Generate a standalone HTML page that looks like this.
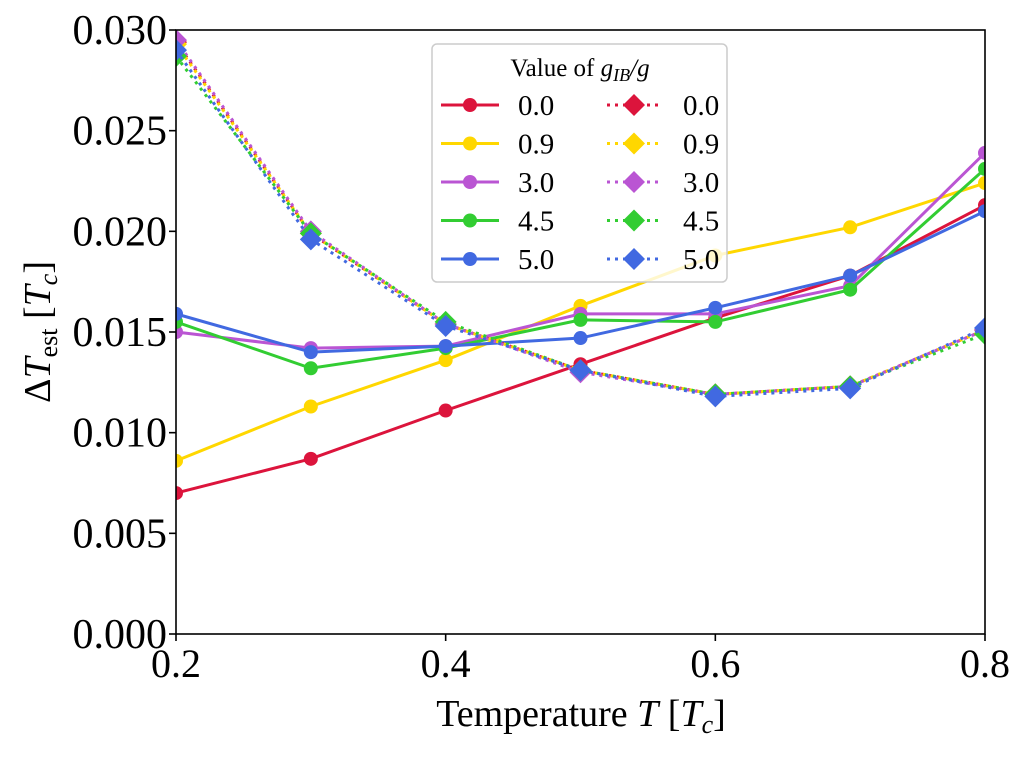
<!DOCTYPE html>
<html><head><meta charset="utf-8"><style>
body{margin:0;background:#fff;}
svg text{font-family:"Liberation Serif",serif;fill:#000;}
</style></head><body>
<svg id="chart" width="1026" height="754" viewBox="0 0 1026 754" xmlns="http://www.w3.org/2000/svg">
<g id="plot"></g>
<g id="axes"></g>
<g id="legend"></g>
</svg>
<script>
const temps = [0.2,0.3,0.4,0.5,0.6,0.7,0.8];
const groups = ["0.0","0.9","3.0","4.5","5.0"];
const colors = ["#dc143c","#ffd700","#ba55d3","#32cd32","#4169e1"];
const solid00 = [0.0070,0.0087,0.0111,0.0134,0.0157,0.0178,0.0213];
const solid09 = [0.0086,0.0113,0.0136,0.0163,0.0188,0.0202,0.0224];
const solid30 = [0.0150,0.0142,0.0143,0.0159,0.0159,0.0173,0.0239];
const solid45 = [0.0155,0.0132,0.0142,0.0156,0.0155,0.0171,0.0231];
const solid50 = [0.0159,0.0140,0.0143,0.0147,0.0162,0.0178,0.0210];
const dot00 = [0.0294,0.0199,0.0154,0.0131,0.0119,0.0123,0.0151];
const dot09 = [0.0293,0.0199,0.0154,0.0131,0.0119,0.0123,0.0151];
const dot30 = [0.0295,0.0200,0.0154,0.0130,0.0119,0.0123,0.0151];
const dot45 = [0.0287,0.0199,0.0155,0.0131,0.0119,0.0123,0.0149];
const dot50 = [0.0290,0.0196,0.0153,0.0131,0.0118,0.0122,0.0152];
const xTicks = [0.2,0.4,0.6,0.8];
const xTickLabels = ["0.2","0.4","0.6","0.8"];
const yTicks = [0,0.005,0.010,0.015,0.020,0.025,0.030];
const yTickLabels = ["0.000","0.005","0.010","0.015","0.020","0.025","0.030"];

const L=176,R=985,T=30,B=634;
const sx=v=>L+(v-0.2)/(0.6)*(R-L);
const sy=v=>B-v/0.030*(B-T);
const NS="http://www.w3.org/2000/svg";
function mk(tag,attrs,parent){const e=document.createElementNS(NS,tag);for(const k in attrs)e.setAttribute(k,attrs[k]);parent.appendChild(e);return e;}
const plot=document.getElementById('plot'),axes=document.getElementById('axes'),leg=document.getElementById('legend');
mk('defs',{},plot).innerHTML='<clipPath id="cp"><rect x="'+L+'" y="'+T+'" width="'+(R-L)+'" height="'+(B-T)+'"/></clipPath>';
const g=mk('g',{'clip-path':'url(#cp)'},plot);
const solids=[solid00,solid09,solid30,solid45,solid50];
const dots=[dot00,dot09,dot30,dot45,dot50];
function diamond(cx,cy,r){return `${cx},${cy-r} ${cx+r},${cy} ${cx},${cy+r} ${cx-r},${cy}`;}
solids.forEach((s,i)=>{
  const p=mk('polyline',{points:s.map((v,j)=>sx(temps[j])+','+sy(v)).join(' '),fill:'none',stroke:colors[i],'stroke-width':3},g);
  
  
  s.forEach((v,j)=>{const c=mk('circle',{cx:sx(temps[j]),cy:sy(v),r:7,fill:colors[i]},g);
    
    });
});
dots.forEach((s,i)=>{
  const p=mk('polyline',{points:s.map((v,j)=>sx(temps[j])+','+sy(v)).join(' '),fill:'none',stroke:colors[i],'stroke-width':3,'stroke-dasharray':'3 5'},g);
  
  
  s.forEach((v,j)=>{const c=mk('polygon',{points:diamond(sx(temps[j]),sy(v),11),fill:colors[i]},g);
    
    });
});
// axes
const fr=mk('rect',{x:L,y:T,width:R-L,height:B-T,fill:'none',stroke:'#000','stroke-width':1.6},axes);


xTicks.forEach((v,i)=>{mk('line',{x1:sx(v),x2:sx(v),y1:B,y2:B+7,stroke:'#000','stroke-width':1.6},axes);
  const t=mk('text',{x:sx(v),y:B+43,'text-anchor':'middle','font-size':40},axes);t.textContent=xTickLabels[i];
  
  });
yTicks.forEach((v,i)=>{mk('line',{x1:L-7,x2:L,y1:sy(v),y2:sy(v),stroke:'#000','stroke-width':1.6},axes);
  const t=mk('text',{x:L-9,y:sy(v)+14,'text-anchor':'end','font-size':42},axes);t.textContent=yTickLabels[i];
  
  });
const xt=mk('text',{x:581,y:726,'text-anchor':'middle','font-size':38},axes);
xt.innerHTML='Temperature <tspan font-style="italic">T</tspan> [<tspan font-style="italic">T</tspan><tspan font-style="italic" font-size="26" dy="7">c</tspan><tspan dy="-7">]</tspan>';


const yt=mk('text',{x:0,y:0,'text-anchor':'middle','font-size':38,transform:'translate(50,332) rotate(-90)'},axes);
yt.innerHTML='Δ<tspan font-style="italic">T</tspan><tspan font-size="26" dy="7">est</tspan><tspan dy="-7"> [</tspan><tspan font-style="italic">T</tspan><tspan font-style="italic" font-size="26" dy="7">c</tspan><tspan dy="-7">]</tspan>';


// legend
const lb=mk('rect',{x:432,y:44,width:295,height:238,rx:5,fill:'#fff','fill-opacity':0.8,stroke:'#ccc','stroke-width':1.5},leg);


const lt=mk('text',{x:580,y:76,'text-anchor':'middle','font-size':25},leg);
lt.innerHTML='Value of <tspan font-style="italic">g</tspan><tspan font-style="italic" font-size="18" dy="5">IB</tspan><tspan font-style="italic" dy="-5">/g</tspan>';


groups.forEach((gname,i)=>{
  const y=105+i*38.5;
  const e1=mk('g',{},leg);
  
  
  mk('line',{x1:441,x2:499,y1:y,y2:y,stroke:colors[i],'stroke-width':3},e1);
  mk('circle',{cx:470,cy:y,r:7,fill:colors[i]},e1);
  const t1=mk('text',{x:518,y:y+10,'font-size':29},e1);t1.textContent=gname;
  const e2=mk('g',{},leg);
  
  
  mk('line',{x1:607,x2:663,y1:y,y2:y,stroke:colors[i],'stroke-width':3,'stroke-dasharray':'3 5'},e2);
  mk('polygon',{points:diamond(634,y,11),fill:colors[i]},e2);
  const t2=mk('text',{x:683,y:y+10,'font-size':29},e2);t2.textContent=gname;
});
</script>
</body></html>
